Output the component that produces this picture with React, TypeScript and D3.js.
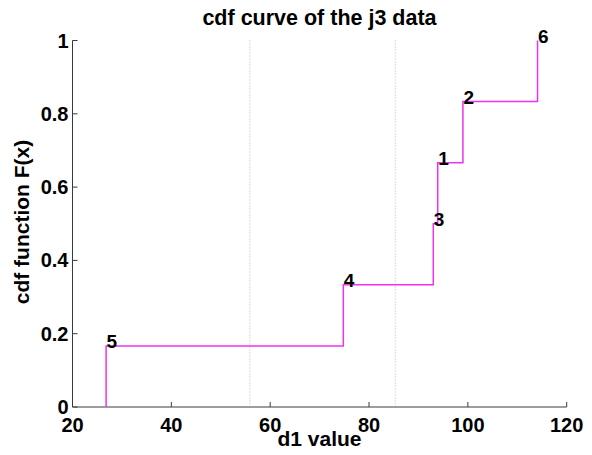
import React from "react";
import * as d3 from "d3";

const pointIds = ["5", "4", "3", "1", "2", "6"];
const pointX = [26.8, 74.8, 93.0, 93.9, 99.0, 114.1];
const cdfY = [1 / 6, 2 / 6, 3 / 6, 4 / 6, 5 / 6, 1];
const refLines = [55.9, 85.3];
const xTicks = [20, 40, 60, 80, 100, 120];
const yTicks = [0, 0.2, 0.4, 0.6, 0.8, 1];

const W = 592;
const H = 455;
const L = 72.5;
const R = 566.7;
const T = 40.5;
const B = 407;

export default function App() {
  const x = d3.scaleLinear().domain([20, 120]).range([L, R]);
  const y = d3.scaleLinear().domain([0, 1]).range([B, T]);

  const stepPts: [number, number][] = [[pointX[0], 0]];
  pointX.forEach((px, i) => {
    if (i > 0) stepPts.push([px, cdfY[i - 1]]);
    stepPts.push([px, cdfY[i]]);
  });
  const line = d3
    .line<[number, number]>()
    .x((d) => x(d[0]))
    .y((d) => y(d[1]));

  const font = "Arial, 'Liberation Sans', Helvetica, sans-serif";
  const axisColor = "#3a3a3a";

  return (
    <svg
      width={W}
      height={H}
      style={{ position: "absolute", left: 0, top: 0, background: "#fff" }}
      fontFamily={font}
      fontWeight="bold"
    >
      <rect x={0} y={0} width={W} height={H} fill="#fff" />
      {refLines.map((v, i) => (
        <line
          key={i}
          x1={x(v)}
          x2={x(v)}
          y1={T}
          y2={B}
          stroke="#e0a8c8"
          strokeWidth={1}
          strokeDasharray="1,2"
        />
      ))}
      {/* axes */}
      <line x1={L} x2={R} y1={B} y2={B} stroke={axisColor} strokeWidth={1} />
      <line x1={L} x2={L} y1={T} y2={B} stroke={axisColor} strokeWidth={1} />
      {xTicks.map((t) => (
        <g key={t}>
          <line x1={x(t)} x2={x(t)} y1={B} y2={B - 5} stroke={axisColor} />
          <text x={x(t)} y={B + 25} textAnchor="middle" fontSize={20} fill="#000">
            {t}
          </text>
        </g>
      ))}
      {yTicks.map((t) => (
        <g key={t}>
          <line x1={L} x2={L + 5} y1={y(t)} y2={y(t)} stroke={axisColor} />
          <text x={L - 4} y={y(t) + 7} textAnchor="end" fontSize={20} fill="#000">
            {t}
          </text>
        </g>
      ))}
      <path d={line(stepPts) || ""} fill="none" stroke="#ee33ee" strokeWidth={1.5} />
      {pointIds.map((id, i) => (
        <text
          key={id}
          x={x(pointX[i]) + 0.5}
          y={y(cdfY[i]) + 2}
          fontSize={19}
          fill="#000"
        >
          {id}
        </text>
      ))}
      <text x={319.5} y={25} textAnchor="middle" fontSize={21.5} fill="#000">
        cdf curve of the j3 data
      </text>
      <text x={319.5} y={446} textAnchor="middle" fontSize={21} fill="#000">
        d1 value
      </text>
      <text
        transform={`translate(29, 222) rotate(-90)`}
        textAnchor="middle"
        fontSize={21}
        fill="#000"
      >
        cdf function F(x)
      </text>
    </svg>
  );
}
